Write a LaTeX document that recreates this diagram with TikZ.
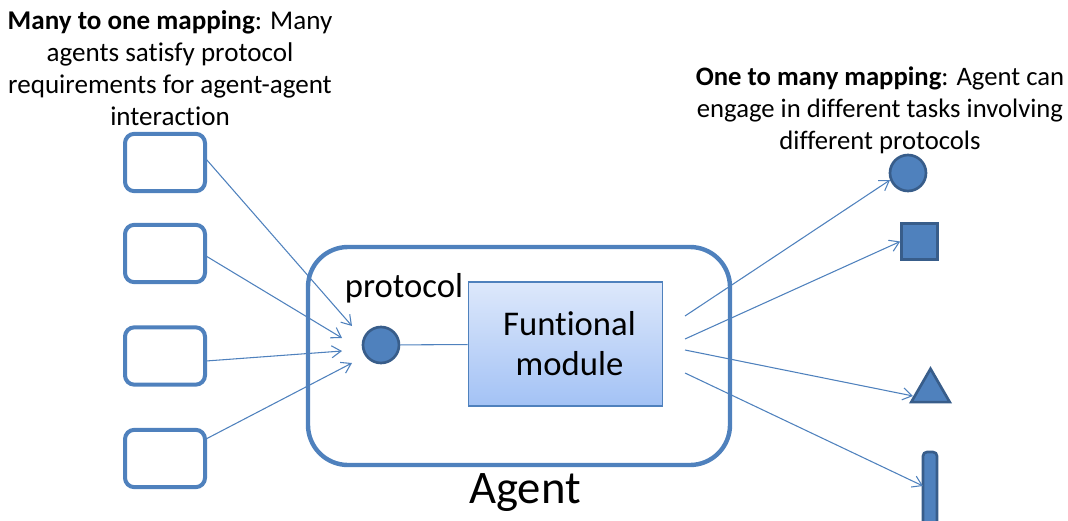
\documentclass[tikz,border=0pt]{standalone}
\usepackage{fontspec}
\setmainfont{Carlito}[Ligatures={NoCommon,NoContextual}]
\usetikzlibrary{arrows.meta,shapes.geometric}
\definecolor{ablue}{HTML}{4F81BD}
\definecolor{dblue}{HTML}{385D8A}
\definecolor{topb}{HTML}{DDE8FB}
\definecolor{botb}{HTML}{A3C2F5}
\tikzset{
  srcbox/.style={draw=ablue,line width=3pt,rounded corners=7pt,minimum width=60pt,minimum height=43pt,inner sep=0pt},
  conn/.style={draw=ablue,line width=0.8pt,-{Straight Barb[length=7pt,width=9pt,line width=0.8pt]}},
  plain/.style={draw=ablue,line width=0.8pt},
  shapefill/.style={fill=ablue,draw=dblue,line width=2pt},
  lbl/.style={font=\fontsize{20.3}{24}\selectfont,align=center,text=black,inner sep=0pt}
}
\begin{document}
\begin{tikzpicture}[x=0.75pt,y=-0.75pt]
\useasboundingbox (0,0) rectangle (1068,521);
% title texts
\node[lbl] (lt) at (170,68) {\textbf{Many to one mapping}: Many\\agents satisfy protocol\\requirements for agent-agent\\interaction};
\node[lbl,font=\fontsize{20}{24}\selectfont] (rt) at (880,110) {\textbf{One to many mapping}: Agent can\\engage in different tasks involving\\different protocols};
% source boxes
\node[srcbox] (b1) at (165,162.5) {};
\node[srcbox] (b2) at (165,253.5) {};
\node[srcbox] (b3) at (165,356) {};
\node[srcbox] (b4) at (165,458.5) {};
% agent
\node[draw=ablue,line width=3.3pt,rounded corners=30pt,minimum width=316.5pt,minimum height=163.5pt,inner sep=0pt] (agent) at (519,356) {};
\node[font=\fontsize{35}{40}\selectfont,inner sep=0pt] (agentl) at (525,493) {Agent};
% protocol
\node[circle,shapefill,minimum size=27pt,inner sep=0pt] (proto) at (381,345) {};
\node[font=\fontsize{26}{30}\selectfont,inner sep=0pt] (protol) at (404,288) {protocol};
% functional module
\node[draw=ablue,line width=0.8pt,top color=topb,bottom color=botb,minimum width=146pt,minimum height=93pt,inner sep=0pt,align=center,font=\fontsize{26}{30}\selectfont] (fm) at (565.5,344) {\hspace*{6pt}Funtional\\\hspace*{6pt}module};
\draw[plain] (proto) -- (fm);
% incoming arrows
\coordinate (s1) at (206,159);
\coordinate (s2) at (206,256);
\coordinate (s3) at (206,361);
\coordinate (s4) at (206,439);
\coordinate (t1) at (352,326);
\coordinate (t2) at (342,338);
\coordinate (t3) at (342,351);
\coordinate (t4) at (352,363);
\draw[conn] (s1) -- (t1);
\draw[conn] (s2) -- (t2);
\draw[conn] (s3) -- (t3);
\draw[conn] (s4) -- (t4);
% outputs
\node[circle,shapefill,minimum size=27pt,inner sep=0pt] (oc) at (908,173) {};
\node[rectangle,shapefill,minimum size=27pt,inner sep=0pt] (os) at (919.5,241.5) {};
\node[isosceles triangle,isosceles triangle apex angle=60,shape border rotate=90,shapefill,minimum height=25pt,minimum width=26pt,inner sep=0pt] (ot) at (930.5,391) {};
\draw[shapefill,rounded corners=3pt] (923,530) -- (923,452) -- (937,452) -- (937,530);
\coordinate (ob) at (923,486);
\coordinate (r1) at (685,316);
\coordinate (r2) at (685,339);
\coordinate (r3) at (685,350);
\coordinate (r4) at (685,373);
\draw[conn] (r1) -- (890,180);
\draw[conn] (r2) -- (os.west);
\draw[conn] (r3) -- (913,396);
\draw[conn] (r4) -- (ob);
\end{tikzpicture}
\end{document}
